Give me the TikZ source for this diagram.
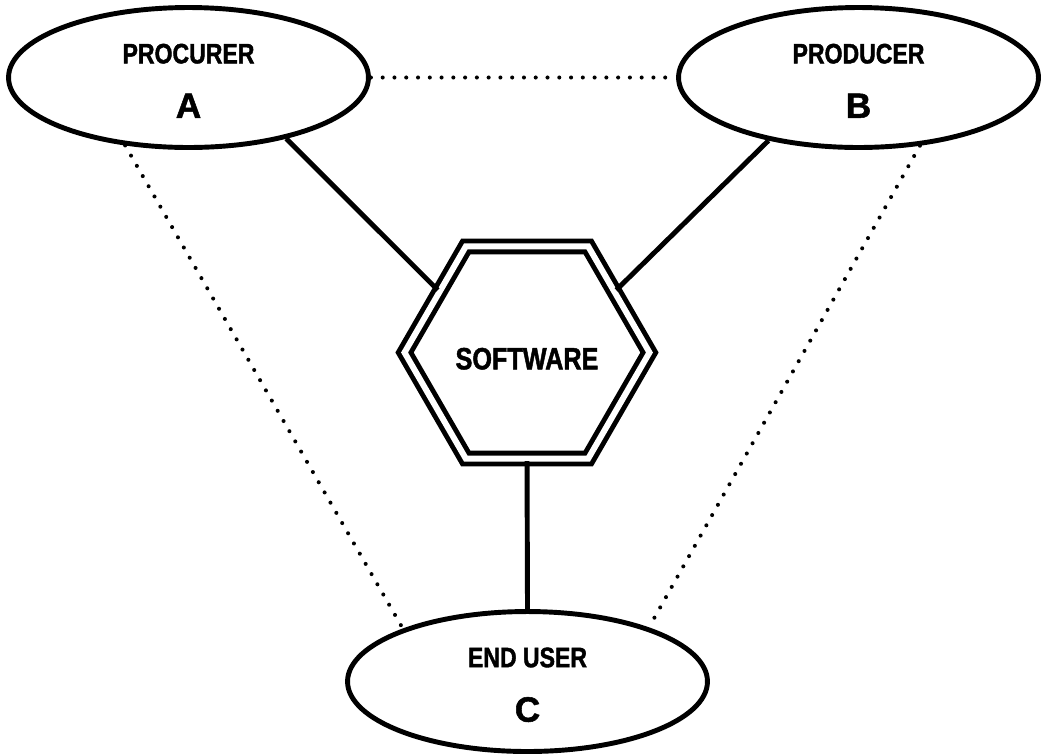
\documentclass[tikz,border=0pt]{standalone}
\usepackage{fontspec}
\setmainfont{Liberation Sans}[UprightFont={* Bold},FakeStretch=0.82,FakeBold=1.5]
\newfontfamily\letterfont{Liberation Sans}[UprightFont={* Bold},FakeBold=1.5]
\usetikzlibrary{shapes.geometric}
\tikzset{
    party/.style={draw,ellipse,line width=2.8pt,minimum width=7.2cm,minimum height=2.8cm,
        inner sep=0pt,align=center,text height=45.9pt,font=\fontsize{16}{18}\selectfont},
    hexa/.style={draw,regular polygon,regular polygon sides=6,line width=2.8pt,double,
        double distance=3.4pt,minimum size=4.9cm,inner sep=0pt,text height=19.3pt,
        font=\fontsize{17.5}{20}\selectfont},
    link/.style={line width=2.8pt},
    dots/.style={line width=2.3pt,line cap=round,dash pattern=on 0pt off 6.7pt}
}
\newcommand{\bigletter}[1]{{\letterfont\fontsize{20}{20}\selectfont #1}}
\begin{document}
\begin{tikzpicture}[x=0.02cm,y=-0.02cm]
    \useasboundingbox (0,0) rectangle (1043,755);
    %% the three parties
    \node[party] (procurer) at (188.5,77.5) {PROCURER\\[13pt]\bigletter{A}};
    \node[party] (producer) at (858.5,77.5) {PRODUCER\\[13pt]\bigletter{B}};
    \node[party] (enduser) at (527.5,681.5) {END USER\\[13pt]\bigletter{C}};
    %% the software in the middle
    \node[hexa] (software) at (527,352.5) {SOFTWARE};
    %% direct links
    \draw[link] (procurer.-32) -- (software.145);
    \draw[link] (producer.-145) -- (software.35);
    \draw[link] (software.south) -- (enduser.north);
    %% indirect links
    \draw[dots] (procurer.east) -- (producer.west);
    \draw[dots] (procurer.-133) -- (enduser.157);
    \draw[dots] (producer.-48) -- (enduser.24);
\end{tikzpicture}
\end{document}
